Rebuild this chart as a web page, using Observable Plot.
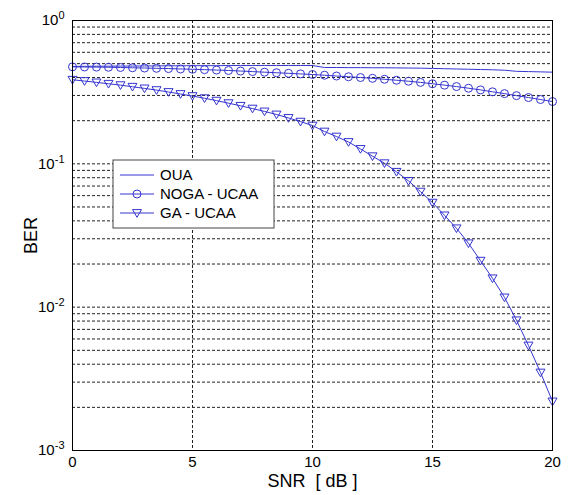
<!DOCTYPE html>
<html><head><meta charset="utf-8">
<script src="https://cdn.jsdelivr.net/npm/d3@7"></script>
<script src="https://cdn.jsdelivr.net/npm/@observablehq/plot@0.6"></script>
<style>body{margin:0;background:#fff;} svg{display:block;}</style>
</head><body><div id="chart"></div>
<script>
const snr = [0,0.5,1,1.5,2,2.5,3,3.5,4,4.5,5,5.5,6,6.5,7,7.5,8,8.5,9,9.5,10,10.5,11,11.5,12,12.5,13,13.5,14,14.5,15,15.5,16,16.5,17,17.5,18,18.5,19,19.5,20];
const oua = [0.478,0.479,0.480,0.480,0.481,0.481,0.482,0.482,0.483,0.483,0.484,0.484,0.484,0.485,0.485,0.485,0.485,0.485,0.485,0.485,0.485,0.470,0.470,0.469,0.469,0.468,0.468,0.467,0.466,0.465,0.463,0.461,0.459,0.457,0.455,0.453,0.450,0.442,0.440,0.438,0.436];
const noga = [0.475,0.474,0.473,0.472,0.470,0.468,0.466,0.464,0.462,0.459,0.457,0.454,0.451,0.448,0.444,0.440,0.436,0.432,0.428,0.424,0.420,0.415,0.410,0.405,0.400,0.395,0.389,0.383,0.377,0.370,0.362,0.354,0.346,0.337,0.328,0.318,0.309,0.299,0.290,0.281,0.272];
const ga = [0.386,0.378,0.370,0.362,0.354,0.345,0.336,0.327,0.317,0.307,0.297,0.287,0.276,0.265,0.254,0.243,0.232,0.221,0.209,0.197,0.185,0.168,0.155,0.142,0.127,0.113,0.101,0.088,0.076,0.064,0.0536,0.0437,0.0355,0.0279,0.0211,0.0159,0.0117,0.0081,0.0054,0.0035,0.0022];
const seriesNames = ["OUA","NOGA - UCAA","GA - UCAA"];
const xTicks = [0,5,10,15,20];
const yTicks = [1e-3,1e-2,1e-1,1];
const yGrid = [0.002,0.003,0.004,0.005,0.006,0.007,0.008,0.009,0.01,0.02,0.03,0.04,0.05,0.06,0.07,0.08,0.09,0.1,0.2,0.3,0.4,0.5,0.6,0.7,0.8,0.9];
const xGrid = [5,10,15];

const blue = "#3535d0";
const rows = (vals) => snr.map((s,i)=>({snr:s, ber:vals[i]}));
const triDown = {draw(ctx, size){const s=Math.sqrt(size/Math.PI); ctx.moveTo(-s,-s*0.75); ctx.lineTo(s,-s*0.75); ctx.lineTo(0,s*0.95); ctx.closePath();}};

const chart = Plot.plot({
  width:569, height:495,
  marginLeft:72, marginRight:17, marginTop:20, marginBottom:45,
  style:{fontFamily:"'Liberation Sans', Arial, sans-serif", fontSize:"16px", background:"white", color:"black"},
  x:{domain:[0,20]},
  y:{type:"log", domain:[1e-3,1]},
  marks:[
    Plot.ruleY(yGrid, {stroke:"#222", strokeWidth:1, strokeDasharray:"3,2"}),
    Plot.ruleX(xGrid, {stroke:"#222", strokeWidth:1, strokeDasharray:"3,2"}),
    Plot.line(rows(oua), {x:"snr", y:"ber", stroke:blue, strokeWidth:1}),
    Plot.line(rows(noga), {x:"snr", y:"ber", stroke:blue, strokeWidth:1}),
    Plot.dot(rows(noga), {x:"snr", y:"ber", stroke:blue, r:4, strokeWidth:1, fill:"none"}),
    Plot.line(rows(ga), {x:"snr", y:"ber", stroke:blue, strokeWidth:1}),
    Plot.dot(rows(ga), {x:"snr", y:"ber", stroke:blue, r:4.5, strokeWidth:1, fill:"none", symbol:triDown}),
    Plot.frame({stroke:"black", strokeWidth:1}),
    Plot.axisX({ticks:xTicks, tickSize:0, tickPadding:6, fontSize:15, label:"SNR  [ dB ]", labelAnchor:"center", labelArrow:"none", labelOffset:36}),
    Plot.axisY({ticks:yTicks, tickSize:0, tickPadding:8, fontSize:15, tickFormat:d => "10^" + Math.round(Math.log10(d)), label:"BER", labelAnchor:"center", labelArrow:"none", labelOffset:48})
  ]
});
document.getElementById("chart").appendChild(chart);

const svg = d3.select(chart);
// superscript exponents on y tick labels
svg.selectAll('g[aria-label="y-axis tick label"] text').each(function(){
  const t = d3.select(this);
  const parts = t.text().split("^");
  t.text(null);
  t.append("tspan").text(parts[0]);
  t.append("tspan").attr("dy","-0.55em").attr("font-size","11px").text(parts[1]);
});
svg.selectAll('g[aria-label="x-axis label"] text, g[aria-label="y-axis label"] text').attr("font-size","18px");

// legend
const lg = svg.append("g").attr("font-family","'Liberation Sans', Arial, sans-serif").attr("font-size","15px").attr("text-anchor","start");
lg.append("rect").attr("x",113).attr("y",160).attr("width",161).attr("height",68).attr("fill","white").attr("stroke","#444").attr("stroke-width",1);
seriesNames.forEach((name,i)=>{
  const y = 175 + i*19;
  lg.append("line").attr("x1",120).attr("x2",154).attr("y1",y).attr("y2",y).attr("stroke",blue).attr("stroke-width",1);
  if(i===1) lg.append("circle").attr("cx",137).attr("cy",y).attr("r",4).attr("fill","none").attr("stroke",blue);
  if(i===2) lg.append("path").attr("d",`M${137-4.5},${y-3.4}L${137+4.5},${y-3.4}L137,${y+4.3}Z`).attr("fill","none").attr("stroke",blue);
  lg.append("text").attr("x",160).attr("y",y).attr("dy","0.36em").attr("fill","black").attr("text-anchor","start").text(name);
});
</script></body></html>
